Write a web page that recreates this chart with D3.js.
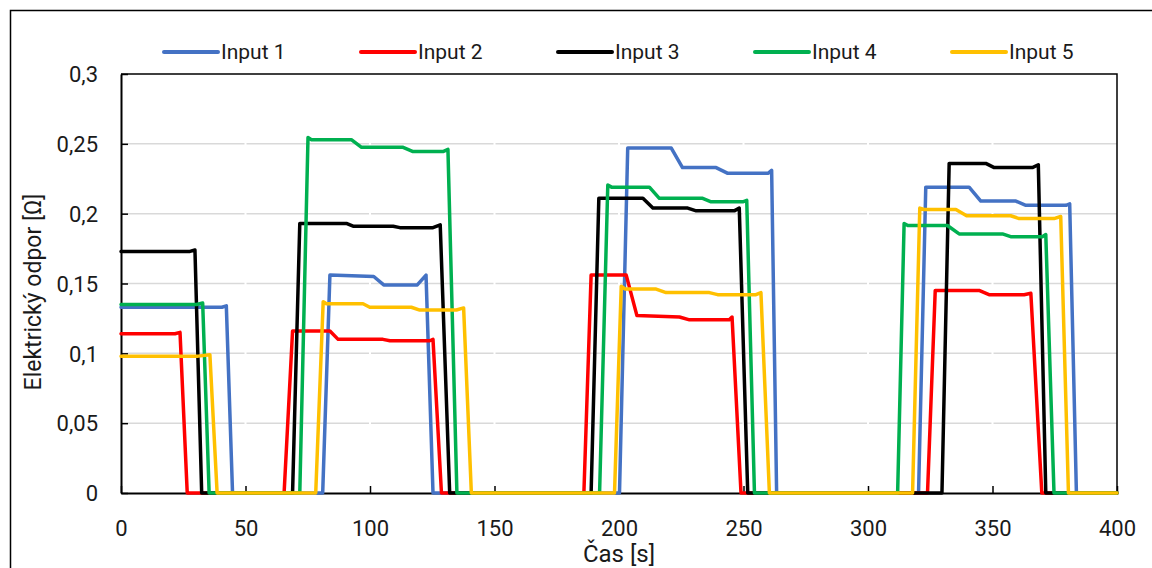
<!DOCTYPE html>
<html>
<head>
<meta charset="utf-8">
<script src="https://cdn.jsdelivr.net/npm/d3@7"></script>
<style>
  body { margin: 0; background: #fff; }
  svg text { font-family: Roboto, "DejaVu Sans", sans-serif; fill: #1a1a1a; }
</style>
</head>
<body>
<svg id="chart" width="1152" height="568"></svg>
<script>
// series names + colours
var seriesNames = ['Input 1', 'Input 2', 'Input 3', 'Input 4', 'Input 5'];
var seriesColors = ['#4472C4', '#FF0000', '#000000', '#00B050', '#FFC000'];

// [time s, resistance ohm]
var input1 = [[0,0.133],[40.5,0.133],[42.3,0.134],[44.8,0],[81,0],[83.9,0.156],[101.5,0.155],[105.5,0.149],[119,0.149],[122.5,0.156],[125.3,0],[200.2,0],[203.5,0.247],[221,0.247],[225.5,0.233],[239,0.233],[243.5,0.229],[260,0.229],[261.3,0.231],[263.3,0],[320.3,0],[323.2,0.219],[340.6,0.219],[345.3,0.209],[359.4,0.209],[363.4,0.206],[379.5,0.206],[381,0.207],[383.7,0],[400,0]];
var input2 = [[0,0.114],[21.7,0.114],[23.7,0.115],[26.6,0],[65.5,0],[68.9,0.116],[83.9,0.116],[87.2,0.110],[105.2,0.110],[108,0.109],[124,0.109],[125.3,0.110],[128.7,0],[185.9,0],[188.8,0.156],[202.9,0.156],[207.2,0.127],[224.3,0.126],[228.3,0.124],[244.3,0.124],[245.4,0.126],[249,0],[323.9,0],[327,0.145],[344.6,0.145],[348.6,0.142],[362.7,0.142],[365.4,0.143],[369.8,0],[400,0]];
var input3 = [[0,0.173],[27.7,0.173],[29.7,0.174],[32.4,0],[68.9,0],[71.8,0.193],[90.5,0.193],[93.2,0.191],[109.3,0.191],[112,0.190],[125.3,0.190],[128.2,0.192],[132,0],[188.8,0],[191.9,0.211],[209.6,0.211],[213.6,0.204],[227.6,0.204],[231,0.202],[246.3,0.202],[248.3,0.204],[251.7,0],[329.7,0],[332.6,0.236],[347.3,0.236],[350.7,0.233],[366,0.233],[368.4,0.235],[371.4,0],[400,0]];
var input4 = [[0,0.135],[30.4,0.135],[32.8,0.136],[35.4,0],[71.8,0],[75.1,0.2545],[76.5,0.253],[92.5,0.253],[96.6,0.2475],[113.3,0.2475],[117.3,0.2445],[129.3,0.2445],[131.3,0.246],[134.9,0],[192.2,0],[195.5,0.2205],[197,0.219],[212.2,0.219],[216.2,0.211],[233.6,0.211],[237,0.2085],[249.7,0.2085],[251.3,0.2095],[254.4,0],[311.9,0],[314.5,0.193],[316,0.1915],[331.9,0.1915],[336.6,0.1855],[354,0.1855],[357.3,0.1835],[370,0.1835],[371.4,0.185],[374.7,0],[400,0]];
var input5 = [[0,0.098],[31,0.098],[35.7,0.099],[38.6,0],[78.2,0],[81.2,0.137],[82.5,0.1355],[97.2,0.1355],[99.9,0.133],[116.6,0.133],[120,0.131],[134.7,0.131],[137.6,0.1325],[140.7,0],[198.2,0],[200.9,0.148],[202.5,0.146],[214.9,0.146],[218.9,0.1435],[236.3,0.1435],[239.6,0.142],[255,0.142],[257,0.1435],[260.4,0],[317.9,0],[320.8,0.204],[322.5,0.203],[335.3,0.203],[339.6,0.1985],[357.3,0.1985],[360.7,0.1965],[374.7,0.1965],[377.4,0.198],[380.5,0],[400,0]];

var xTicks = [0, 50, 100, 150, 200, 250, 300, 350, 400];
var yTicks = [0, 0.05, 0.1, 0.15, 0.2, 0.25, 0.3];

var allSeries = [input1, input2, input3, input4, input5];

function drawChart() {
    var svg = d3.select('#chart');

    // outer border (runs off the right/bottom edge like the source)
    svg.append('rect')
        .attr('x', 10.5).attr('y', 10.5)
        .attr('width', 1160).attr('height', 600)
        .attr('fill', 'none')
        .attr('stroke', '#000')
        .attr('stroke-width', 1.5);

    var pLeft = 121, pRight = 1117, pTop = 74, pBottom = 493;

    var x = d3.scaleLinear().domain([0, 400]).range([pLeft, pRight]);
    var y = d3.scaleLinear().domain([0, 0.3]).range([pBottom, pTop]);

    var fmt = function(d) { return String(+d.toFixed(2)).replace('.', ','); };

    // horizontal grid
    svg.append('g')
        .selectAll('line')
        .data(yTicks.filter(function(d) { return d > 0 && d < 0.3; }))
        .enter().append('line')
        .attr('x1', pLeft).attr('x2', pRight)
        .attr('y1', function(d) { return y(d); })
        .attr('y2', function(d) { return y(d); })
        .attr('stroke', '#d9d9d9')
        .attr('stroke-width', 1.5);

    // little white breaks in the grid at the x ticks
    svg.append('g')
        .selectAll('line')
        .data(xTicks.filter(function(d) { return d > 0 && d < 400; }))
        .enter().append('line')
        .attr('x1', function(d) { return x(d); })
        .attr('x2', function(d) { return x(d); })
        .attr('y1', pTop + 2).attr('y2', pBottom - 8)
        .attr('stroke', '#fff')
        .attr('stroke-width', 2);

    // plot frame, top and right
    svg.append('path')
        .attr('d', 'M' + pLeft + ',' + pTop + 'H' + pRight + 'V' + pBottom)
        .attr('fill', 'none')
        .attr('stroke', '#000')
        .attr('stroke-width', 1.5);

    // axes, ticks pointing inward
    var yAxis = svg.append('g')
        .attr('transform', 'translate(' + pLeft + ',0)')
        .call(d3.axisLeft(y).tickValues(yTicks).tickSizeInner(-7).tickSizeOuter(0).tickPadding(23).tickFormat(fmt));
    var xAxis = svg.append('g')
        .attr('transform', 'translate(0,' + pBottom + ')')
        .call(d3.axisBottom(x).tickValues(xTicks).tickSizeInner(-7).tickSizeOuter(0).tickPadding(22).tickFormat(fmt));

    [yAxis, xAxis].forEach(function(ax) {
        ax.select('.domain').attr('stroke', '#000').attr('stroke-width', 2);
        ax.selectAll('.tick line').attr('stroke', '#000').attr('stroke-width', 1.5);
        ax.selectAll('.tick text').style('font-size', '22px').attr('fill', '#1a1a1a');
    });
    yAxis.selectAll('.tick text').attr('dy', '0.35em');
    xAxis.selectAll('.tick text').attr('dy', '0.95em');

    // lines
    var line = d3.line()
        .x(function(d) { return x(d[0]); })
        .y(function(d) { return y(d[1]); });

    svg.append('g')
        .selectAll('path')
        .data(allSeries)
        .enter().append('path')
        .attr('d', line)
        .attr('fill', 'none')
        .attr('stroke', function(d, i) { return seriesColors[i]; })
        .attr('stroke-width', 3.5)
        .attr('stroke-linejoin', 'round')
        .attr('stroke-linecap', 'round');

    // legend
    var legend = svg.append('g')
        .selectAll('g')
        .data(seriesNames)
        .enter().append('g')
        .attr('transform', function(d, i) { return 'translate(' + (164 + i * 197) + ',52)'; });

    legend.append('line')
        .attr('x1', 0).attr('x2', 54)
        .attr('stroke', function(d, i) { return seriesColors[i]; })
        .attr('stroke-width', 4)
        .attr('stroke-linecap', 'round');

    legend.append('text')
        .attr('x', 57)
        .attr('dy', '0.35em')
        .style('font-size', '21px')
        .text(function(d) { return d; });

    // axis titles
    svg.append('text')
        .attr('transform', 'translate(33,292) rotate(-90)')
        .attr('text-anchor', 'middle')
        .attr('dy', '0.35em')
        .style('font-size', '23px')
        .text('Elektrický odpor [Ω]');

    svg.append('text')
        .attr('x', (pLeft + pRight) / 2)
        .attr('y', 554)
        .attr('text-anchor', 'middle')
        .attr('dy', '0.35em')
        .style('font-size', '24px')
        .text('Čas [s]');
}

drawChart();
</script>
</body>
</html>
